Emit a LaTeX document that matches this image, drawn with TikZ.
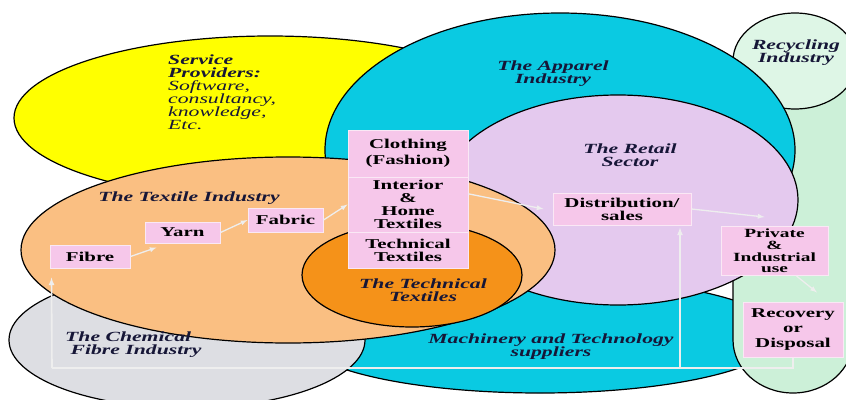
\documentclass[tikz,border=0pt]{standalone}
\usepackage{fontspec}
\setmainfont{Liberation Serif}[FakeStretch=1.55]

\definecolor{jaune}{RGB}{255,255,0}
\definecolor{cyanfonce}{RGB}{10,202,226}
\definecolor{lavande}{RGB}{228,201,238}
\definecolor{orangeclair}{RGB}{250,191,130}
\definecolor{orangefonce}{RGB}{245,146,25}
\definecolor{grisclair}{RGB}{221,222,227}
\definecolor{vert}{RGB}{204,240,216}
\definecolor{vertclair}{RGB}{222,246,230}
\definecolor{rose}{RGB}{246,199,234}
\definecolor{bord}{RGB}{250,232,245}
\definecolor{fleche}{RGB}{238,238,238}
\definecolor{encre}{RGB}{22,22,55}

\begin{document}
\begin{tikzpicture}[x=1pt,y=-1pt,
    contour/.style={draw=black,line width=1.2pt},
    boite/.style={fill=rose,draw=bord,line width=1pt,align=center,inner sep=0pt,
                  font=\bfseries\fontsize{13.5}{13}\selectfont},
    titre/.style={text=encre,align=center,inner sep=0pt,
                  font=\bfseries\itshape\fontsize{14}{13}\selectfont},
    lien/.style={draw=fleche,line width=1.3pt,-latex},
    retour/.style={draw=fleche,line width=1.6pt}]
\useasboundingbox (0,0) rectangle (846,399);

% Secteurs (ellipses), du fond vers le devant
\filldraw[contour,fill=jaune] (270,118) ellipse [x radius=256,y radius=82];
\filldraw[contour,fill=cyanfonce] (540,335) ellipse [x radius=242,y radius=58];
\filldraw[contour,fill=vert] (733,70) -- (733,340)
    arc[start angle=180,end angle=0,x radius=60,y radius=53] -- (853,70) -- cycle;
\filldraw[contour,fill=vertclair] (795,61) ellipse [x radius=62,y radius=48];
\filldraw[contour,fill=cyanfonce] (560,150) ellipse [x radius=235,y radius=137];
\filldraw[contour,fill=lavande] (618,200) ellipse [x radius=180,y radius=105];
\filldraw[contour,fill=grisclair] (187,340) ellipse [x radius=178,y radius=68];
\filldraw[contour,fill=orangeclair] (288,250) ellipse [x radius=267,y radius=93];
\filldraw[contour,fill=orangefonce] (412,275) ellipse [x radius=110,y radius=52];

% Noms des secteurs
\node[titre,anchor=north west,align=left] (lsrv) at (168,55)
    {Service\\Providers:\\\mdseries Software,\\\mdseries consultancy,\\\mdseries knowledge,\\\mdseries Etc.};
\node[titre] (lapp) at (553,74) {The Apparel\\Industry};
\node[titre] (lret) at (630,155) {The Retail\\Sector};
\node[titre] (lrec) at (796,53) {Recycling\\Industry};
\node[titre] (ltex) at (189,198) {The Textile Industry};
\node[titre] (ltec) at (423,290) {The Technical\\Textiles};
\node[titre,anchor=west,align=left] (lchem) at (65,345) {The Chemical\\\ Fibre Industry};
\node[titre] (lmach) at (551,347) {Machinery and Technology\\suppliers};

% Boites de la chaine
\node[boite,minimum width=80,minimum height=23] (fibre) at (90,256.5) {Fibre};
\node[boite,minimum width=75,minimum height=21] (yarn) at (182.5,232.5) {Yarn};
\node[boite,minimum width=75,minimum height=24] (fabric) at (285.5,220) {Fabric};
\node[boite,minimum width=120,minimum height=47] (cloth) at (408,153.5) {Clothing\\[3pt](Fashion)};
\node[boite,minimum width=120,minimum height=55] (interior) at (408,204.5) {Interior\\\&\\Home\\Textiles};
\node[boite,minimum width=120,minimum height=36] (technical) at (408,250) {Technical\\Textiles};
\node[boite,minimum width=138,minimum height=32] (distrib) at (622,209) {Distribution/\\sales};
\node[boite,minimum width=107,minimum height=49,font=\bfseries\fontsize{12.5}{11.8}\selectfont]
    (private) at (774.5,251) {Private\\\&\\Industrial\\use};
\node[boite,minimum width=100,minimum height=55] (recovery) at (793,329.5) {Recovery\\[2pt]or\\[2pt]Disposal};

% Fleches
\draw[lien] (fibre.east) -- ([shift={(12,4)}]yarn.south west);
\draw[lien] (yarn.east) -- (fabric.west);
\draw[lien] (fabric.east) -- (interior.west);
\draw[lien] (interior.10) -- ([xshift=-9pt]distrib.west);
\draw[lien] (distrib.east) -- ([shift={(-10,-9)}]private.north);
\draw[lien] ([xshift=22pt]private.south) -- ([shift={(24,-9)}]recovery.north);

% Retour vers les fibres et la distribution
\coordinate (bas) at (52,368);
\coordinate (pied) at (680,368);
\draw[retour] (recovery.south) |- (bas);
\draw[retour,-latex] (bas) -- ([shift={(2,9)}]fibre.south west);
\draw[retour,-latex] (pied) -- ([yshift=-2pt]pied |- distrib.south);
\end{tikzpicture}
\end{document}
